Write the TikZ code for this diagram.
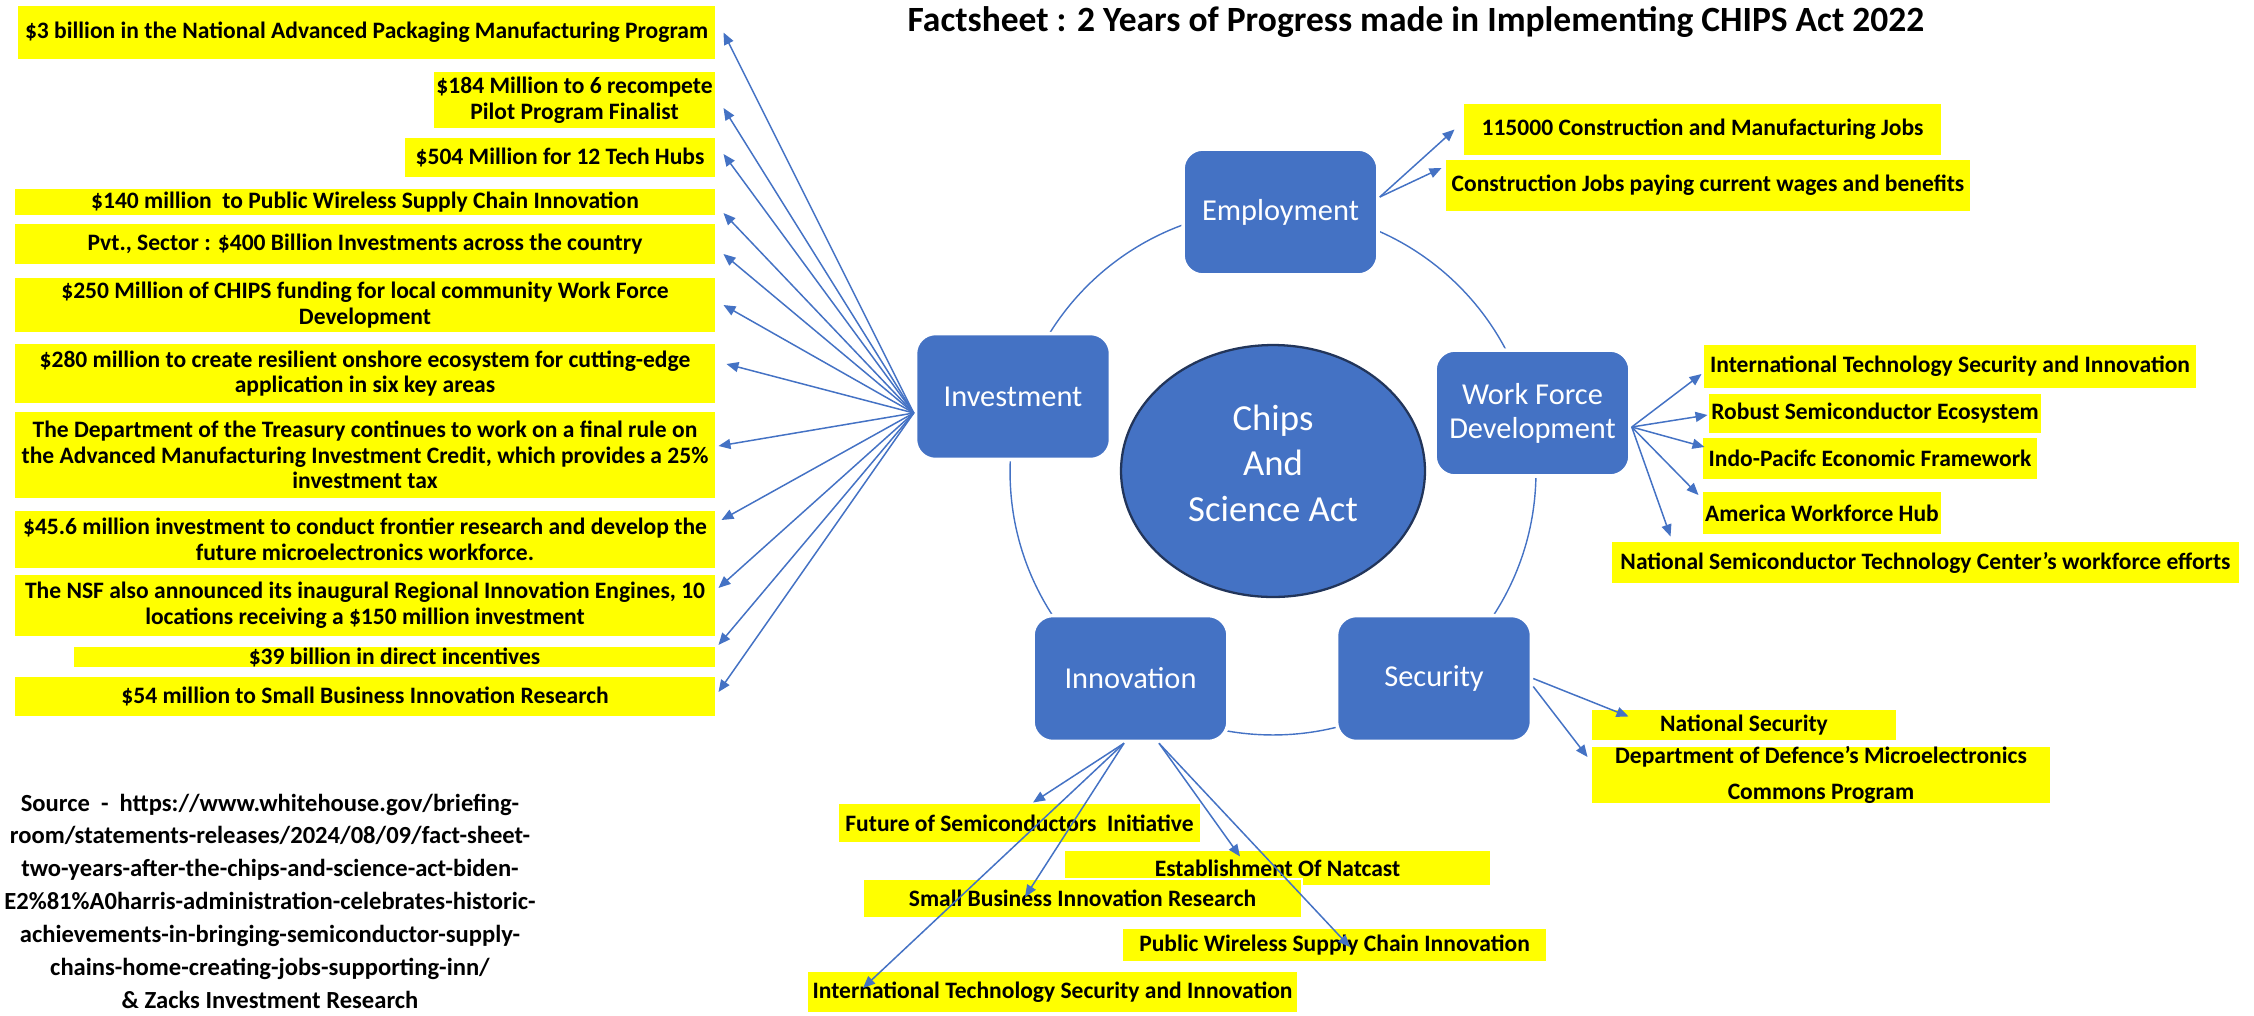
\documentclass[tikz,border=0pt]{standalone}
\usepackage{fontspec}
\setmainfont{Carlito}
\usetikzlibrary{arrows.meta,shapes.geometric}
\definecolor{boxblue}{HTML}{4472C4}
\definecolor{ringblue}{HTML}{4472C4}
\definecolor{hilite}{HTML}{FFFF00}
\definecolor{rimdark}{HTML}{22355A}

\begin{document}
\begin{tikzpicture}[x=0.02cm, y=-0.02cm,
        fact/.style={fill=hilite, draw=white, line width=0.6pt, inner sep=0pt, align=center,
            font=\bfseries\fontsize{13.4}{14.6}\selectfont},
        topic/.style={rounded corners=0.4cm, fill=boxblue, draw=white, line width=2pt, inner sep=0pt,
            text=white, align=center, font=\fontsize{17.3}{19.3}\selectfont,
            minimum width=3.9cm, minimum height=2.52cm},
        feed/.style={draw=ringblue, line width=0.85pt, -{Triangle[length=0.24cm, width=0.2cm]}},
        ring/.style={draw=ringblue, line width=0.8pt}]

        \useasboundingbox (0, 0) rectangle (2254, 1015);

        \node[font=\bfseries\fontsize{20.2}{22}\selectfont] (title) at(1416, 22){Factsheet : 2 Years of Progress made in Implementing CHIPS Act 2022};

        % cycle
        \draw[ring](1273, 472) circle[radius=5.26cm];
        \node[topic] (emp) at(1280.5, 212){Employment};
        \node[topic] (inv) at(1013, 396.5){Investment};
        \node[topic] (wfd) at(1532.5, 413){Work Force\\Development};
        \node[topic] (inn) at(1130.5, 678.5){Innovation};
        \node[topic] (sec) at(1434, 678.5){Security};
        \node[ellipse, fill=boxblue, draw=rimdark, line width=1.3pt, inner sep=0pt, text depth=0.32cm,
            minimum width=6.08cm, minimum height=5.04cm, text=white, align=center,
            font=\fontsize{20.9}{25.8}\selectfont] (chips) at(1273, 471){Chips\\And\\Science Act};

        % investment
        \node[fact, minimum width=13.98cm, minimum height=1.10cm] (b1) at(366.5, 32.5){\$3 billion in the National Advanced Packaging Manufacturing Program};
        \node[fact, minimum width=5.66cm, minimum height=1.16cm] (b2) at(574.5, 100){\$184 Million to 6 recompete\\Pilot Program Finalist};
        \node[fact, minimum width=6.24cm, minimum height=0.82cm] (b3) at(560, 157.5){\$504 Million for 12 Tech Hubs};
        \node[fact, minimum width=14.04cm, minimum height=0.56cm] (b4) at(365, 202){\$140 million~ to Public Wireless Supply Chain Innovation};
        \node[fact, minimum width=14.04cm, minimum height=0.84cm] (b5) at(365, 244){Pvt., Sector : \$400 Billion Investments across the country};
        \node[fact, minimum width=14.04cm, minimum height=1.12cm] (b6) at(365, 305){\$250 Million of CHIPS funding for local community Work Force\\Development};
        \node[fact, minimum width=14.04cm, minimum height=1.22cm] (b7) at(365, 373.5){\$280 million to create resilient onshore ecosystem for cutting-edge\\application in six key areas};
        \node[fact, minimum width=14.04cm, minimum height=1.76cm] (b8) at(365, 455){The Department of the Treasury continues to work on a final rule on\\the Advanced Manufacturing Investment Credit, which provides a 25\%\\investment tax};
        \node[fact, minimum width=14.04cm, minimum height=1.18cm] (b9) at(365, 539.5){\$45.6 million investment to conduct frontier research and develop the\\future microelectronics workforce.};
        \node[fact, minimum width=14.04cm, minimum height=1.26cm] (b10) at(365, 605.5){The NSF also announced its inaugural Regional Innovation Engines, 10\\locations receiving a \$150 million investment};
        \node[fact, minimum width=12.86cm, minimum height=0.44cm] (b11) at(394.5, 657){\$39 billion in direct incentives};
        \node[fact, minimum width=14.04cm, minimum height=0.82cm] (b12) at(365, 696.5){\$54 million to Small Business Innovation Research};

        % employment
        \node[fact, minimum width=9.58cm, minimum height=1.06cm] (e1) at(1702.5, 129.5){115000 Construction and Manufacturing Jobs};
        \node[fact, minimum width=10.52cm, minimum height=1.06cm] (e2) at(1708, 185.5){Construction Jobs paying current wages and benefits};

        % work force
        \node[fact, minimum width=9.88cm, minimum height=0.9cm] (w1) at(1950, 366.5){International Technology Security and Innovation};
        \node[fact, minimum width=6.68cm, minimum height=0.82cm] (w2) at(1875, 413.5){Robust Semiconductor Ecosystem};
        \node[fact, minimum width=6.72cm, minimum height=0.86cm] (w3) at(1870, 458.5){Indo-Pacifc Economic Framework};
        \node[fact, minimum width=4.8cm, minimum height=0.88cm] (w4) at(1822, 513){America Workforce Hub};
        \node[fact, minimum width=12.58cm, minimum height=0.86cm] (w5) at(1925.5, 562.5){National Semiconductor Technology Center's workforce efforts};

        % security
        \node[fact, minimum width=6.12cm, minimum height=0.64cm] (s1) at(1744, 725){National Security};
        \node[fact, minimum width=9.2cm, minimum height=1.16cm, font=\bfseries\fontsize{13.4}{20.4}\selectfont] (s2) at(1821, 775){Department of Defence's Microelectronics\\Commons Program};

        % innovation
        \node[fact, minimum width=7.26cm, minimum height=0.8cm] (i1) at(1019.5, 823){Future of Semiconductors~ Initiative};
        \node[fact, minimum width=8.54cm, minimum height=0.72cm] (i2) at(1277.5, 868){Establishment Of Natcast};
        \node[fact, minimum width=8.78cm, minimum height=0.78cm] (i3) at(1082.5, 898.5){Small Business Innovation Research};
        \node[fact, minimum width=8.5cm, minimum height=0.68cm] (i4) at(1334.5, 945){Public Wireless Supply Chain Innovation};
        \node[fact, minimum width=9.82cm, minimum height=0.84cm] (i5) at(1052.5, 992){International Technology Security and Innovation};

        \node[align=center, font=\bfseries\fontsize{14}{18.7}\selectfont] (src) at(270, 901){Source~ -~ https://www.whitehouse.gov/briefing-\\room/statements-releases/2024/08/09/fact-sheet-\\two-years-after-the-chips-and-science-act-biden-\\E2\%81\%A0harris-administration-celebrates-historic-\\achievements-in-bringing-semiconductor-supply-\\chains-home-creating-jobs-supporting-inn/\\\& Zacks Investment Research};

        % connectors
        \coordinate (invhub) at ([yshift=-0.33cm]inv.west);
        \draw[feed](invhub) to ([xshift=0.14cm]b1.east);
        \draw[feed](invhub) to ([xshift=0.14cm, yshift=-0.16cm]b2.east);
        \draw[feed](invhub) to ([xshift=0.14cm, yshift=0.07cm]b3.east);
        \draw[feed](invhub) to ([xshift=0.14cm, yshift=-0.22cm]b4.east);
        \draw[feed](invhub) to ([xshift=0.14cm, yshift=-0.2cm]b5.east);
        \draw[feed](invhub) to ([xshift=0.14cm]b6.east);
        \draw[feed](invhub) to ([xshift=0.2cm, yshift=0.19cm]b7.east);
        \draw[feed](invhub) to ([xshift=0.04cm, yshift=0.18cm]b8.east);
        \draw[feed](invhub) to ([xshift=0.1cm, yshift=0.39cm]b9.east);
        \draw[feed](invhub) to ([xshift=0.04cm, yshift=0.35cm]b10.east);
        \draw[feed](invhub) to ([xshift=0.04cm, yshift=0.24cm]b11.east);
        \draw[feed](invhub) to ([xshift=0.04cm, yshift=0.09cm]b12.east);

        \coordinate (emphub) at ([yshift=0.3cm]emp.east);
        \draw[feed](emphub) to ([xshift=-0.16cm]e1.west);
        \draw[feed](emphub) to ([xshift=-0.06cm, yshift=0.35cm]e2.west);

        \coordinate (wfdhub) at ([yshift=-0.28cm]wfd.east);
        \draw[feed](wfdhub) to ([xshift=-0.02cm, yshift=-0.15cm]w1.west);
        \draw[feed](wfdhub) to ([yshift=-0.03cm]w2.west);
        \draw[feed](wfdhub) to ([xshift=0.06cm, yshift=0.23cm]w3.west);
        \draw[feed](wfdhub) to ([xshift=-0.06cm, yshift=0.36cm]w4.west);
        \draw[feed](wfdhub) to ([xshift=1.2cm, yshift=0.08cm]w5.north west);

        \draw[feed](sec.east) to ([xshift=0.76cm, yshift=-0.16cm]s1.north west);
        \draw[feed]([yshift=-0.16cm]sec.east) to ([xshift=-0.06cm, yshift=0.36cm]s2.west);

        \coordinate (innhubA) at ([xshift=-0.13cm]inn.south);
        \coordinate (innhubB) at ([xshift=0.57cm]inn.south);
        \draw[feed](innhubA) to ([xshift=0.27cm]i1.north);
        \draw[feed](innhubB) to ([xshift=-0.75cm, yshift=-0.14cm]i2.north);
        \draw[feed](innhubA) to ([xshift=-1.15cm, yshift=0.03cm]i3.center);
        \draw[feed](innhubB) to ([xshift=0.31cm, yshift=-0.04cm]i4.center);
        \draw[feed](innhubA) to ([xshift=-3.79cm, yshift=0.08cm]i5.center);

    \end{tikzpicture}
\end{document}
